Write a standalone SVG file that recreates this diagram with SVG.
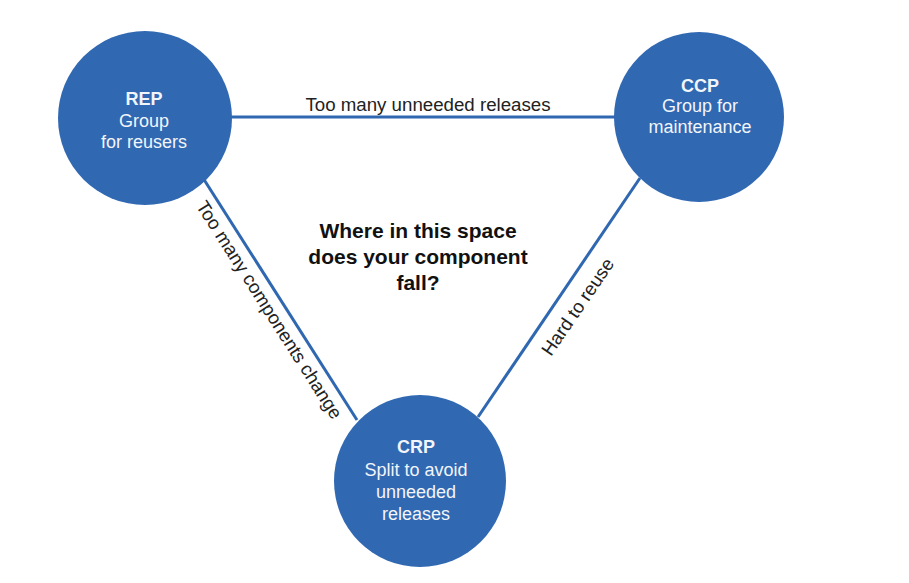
<svg xmlns="http://www.w3.org/2000/svg" width="909" height="583" viewBox="0 0 909 583">
<style>
.node{fill:#3068b2}
.nt{font-family:"Liberation Sans",Arial,sans-serif;font-size:18px;fill:#f2f5fa;text-anchor:middle}
.b{font-weight:bold}
.edge{stroke:#2f67b1;stroke-width:3;fill:none}
.el{font-family:"Liberation Sans",Arial,sans-serif;font-size:18.7px;fill:#222;text-anchor:middle}
.ct{font-family:"Liberation Sans",Arial,sans-serif;font-size:21px;font-weight:bold;fill:#111;text-anchor:middle}
</style>
<rect width="909" height="583" fill="#fff"/>
<g id="connectors">
<line class="edge" x1="230" y1="117" x2="616" y2="117"/>
<line class="edge" x1="203" y1="178" x2="357" y2="420"/>
<line class="edge" x1="640" y1="178" x2="478" y2="417"/>
<text class="el" x="428" y="111">Too many unneeded releases</text>
<text class="el" transform="translate(269,310) rotate(57.5)" x="0" y="6">Too many components change</text>
<text class="el" transform="translate(578,307) rotate(-55.5)" x="0" y="6">Hard to reuse</text>
</g>
<g id="REP">
<circle class="node" cx="145" cy="118" r="87"/>
<text class="nt b" x="144" y="105">REP</text>
<text class="nt" x="144" y="127">Group</text>
<text class="nt" x="144" y="148">for reusers</text>
</g>
<g id="CCP">
<circle class="node" cx="699" cy="117" r="85"/>
<text class="nt b" x="700" y="92">CCP</text>
<text class="nt" x="700" y="112">Group for</text>
<text class="nt" x="700" y="133">maintenance</text>
</g>
<g id="CRP">
<circle class="node" cx="420" cy="481" r="86"/>
<text class="nt b" x="416" y="453">CRP</text>
<text class="nt" x="416" y="476">Split to avoid</text>
<text class="nt" x="416" y="498">unneeded</text>
<text class="nt" x="416" y="520">releases</text>
</g>
<g id="question">
<text class="ct" x="418" y="238">Where in this space</text>
<text class="ct" x="418" y="264">does your component</text>
<text class="ct" x="418" y="290">fall?</text>
</g>
</svg>
